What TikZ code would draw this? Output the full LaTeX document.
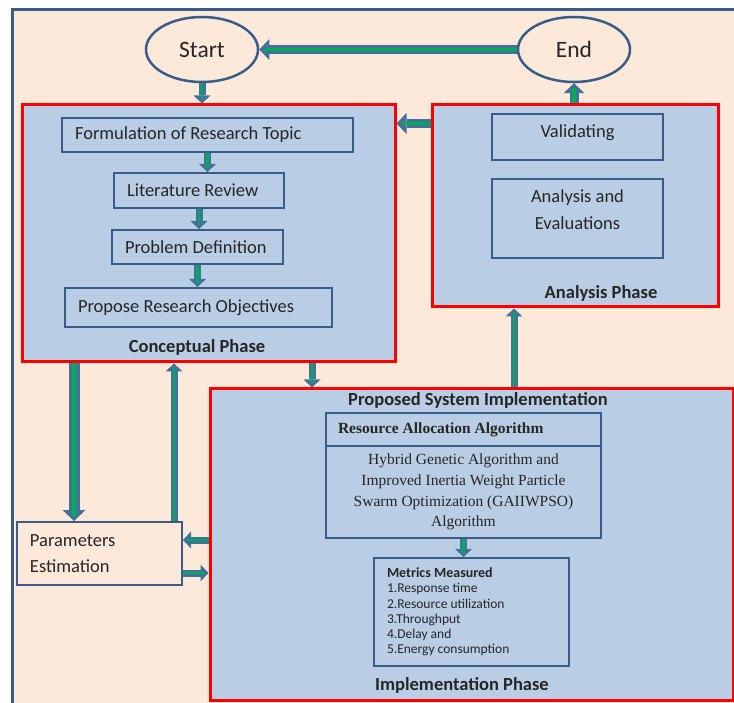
\documentclass[tikz,border=0pt]{standalone}
\usepackage{fontspec}
\setmainfont{Carlito}
\newfontfamily\timesfont{Liberation Serif}
\usetikzlibrary{positioning}
\usetikzlibrary{calc}
\usetikzlibrary{shapes.geometric}
\usetikzlibrary{arrows.meta}
\definecolor{page peach}{RGB}{252,233,218}
\definecolor{phase blue}{RGB}{185,205,229}
\definecolor{line blue}{RGB}{56,93,138}
\definecolor{arrow blue}{RGB}{65,113,156}
\definecolor{arrow green}{RGB}{0,176,80}
\colorlet{phase red}{red}
\colorlet{text colour}{black!85}
\tikzset{
    % One pixel of the original figure is one point here
    every node/.style={align=center, text=text colour},
    base font/.style={font=\fontsize{18.5}{26.5}\selectfont},
    title font/.style={font=\bfseries\fontsize{18.5}{22}\selectfont},
%
    % The page and its phases
    frame/.style={draw=line blue, line width=3pt, fill=page peach},
    phase/.style={
        draw=phase red, line width=3pt, fill=phase blue, inner sep=0},
    phase title/.style={title font, inner sep=0},
    terminal/.style={
        ellipse, draw=line blue, line width=2.5pt, fill=page peach,
        minimum width=112pt, minimum height=65pt, inner sep=0,
        font=\fontsize{23.5}{28}\selectfont},
%
    % Boxes inside the phases
    stepbox/.style={
        draw=line blue, line width=2pt, anchor=north west,
        align=flush left, inner xsep=13pt, inner ysep=0pt, base font},
    centre box/.style={
        draw=line blue, line width=2pt, anchor=north west,
        inner sep=0pt, base font},
%
    % Block arrows: blue shaft and head with a green core
    flow/.style args={#1/#2/#3}{
        draw=arrow green, line width=0.4*#1, shorten >=0.5*#3,
        preaction={
            draw=arrow blue, line width=#1, shorten >=0pt,
            -{Triangle[width=#2, length=#3, line width=0pt]}}},
    big flow/.style={flow=11pt/23pt/11pt},
    mid flow/.style={flow=9pt/21pt/10pt},
    small flow/.style={flow=7pt/17pt/8pt},
}

\begin{document}
\begin{tikzpicture}[x=1pt, y=-1pt]
    \useasboundingbox (0,0) rectangle (734,703);
    \clip (0,0) rectangle (734,703);
    \path[frame] (12,10) rectangle (760,730);

    % Start and end
    \node[terminal] (start) at (202,49.5) {Start};
    \node[terminal] (end) at (574,49.5) {End};

    % Phases
    \node[phase, minimum width=373pt, minimum height=257pt]
        (concept) at (208.5,233.5) {};
    \node[phase, minimum width=286pt, minimum height=202pt]
        (analysis) at (575,206) {};
    \node[phase, minimum width=523pt, minimum height=311pt]
        (impl) at (471.5,544.5) {};

    % Conceptual phase
    \node[stepbox, text width=265pt, minimum height=34pt]
        (topic) at (61,117) {Formulation of Research Topic};
    \node[stepbox, text width=144pt, minimum height=35pt]
        (literature) at (113,172) {Literature Review};
    \node[stepbox, text width=145pt, minimum height=34pt]
        (problem) at (111,229) {Problem Definition};
    \node[stepbox, text width=241pt, minimum height=39pt]
        (propose) at (64,287) {Propose Research Objectives};
    \node[phase title] (concept title) at (197,347) {Conceptual Phase};

    % Analysis phase
    \node[centre box, minimum width=171pt, minimum height=46pt,
        text depth=11pt]
        (validating) at (491,113) {Validating};
    \node[centre box, minimum width=171pt, minimum height=79pt,
        text depth=18pt]
        (evaluation) at (491,178) {Analysis and\\Evaluations};
    \node[phase title] (analysis title) at (601,293) {Analysis Phase};

    % Implementation phase
    \node[phase title] (impl head) at (478,400)
        {Proposed System Implementation};
    \node[centre box, align=flush left, inner xsep=12pt, text width=251pt,
        minimum height=33pt, font=\timesfont\bfseries\fontsize{15.5}{19}\selectfont]
        (resource) at (325,412) {Resource Allocation Algorithm};
    \node[centre box, minimum width=275pt, minimum height=92pt,
        font=\timesfont\fontsize{15.5}{20.8}\selectfont]
        (hybrid) at (325,445)
        {Hybrid Genetic Algorithm and\\Improved Inertia Weight Particle\\
         Swarm Optimization (GAIIWPSO)\\Algorithm};
    \node[centre box, align=flush left, inner xsep=13pt, text width=169pt,
        minimum height=108pt, font=\fontsize{13.5}{15.2}\selectfont]
        (metrics) at (373,557)
        {{\bfseries\fontsize{14}{15.2}\selectfont Metrics Measured}\\
         1.Response time\\2.Resource utilization\\3.Throughput\\
         4.Delay and\\5.Energy consumption};
    \node[phase title] (impl title) at (462,685) {Implementation Phase};

    % Parameters
    \node[stepbox, text width=139pt, minimum height=63pt, fill=page peach]
        (params) at (16,521) {Parameters\\Estimation};

    % Arrows
    \draw[mid flow] (end) -- (start);
    \draw[small flow] (start.south) -- (start.south |- concept.north);
    \draw[mid flow] (end.south |- analysis.north) -- (end.south);
    \draw[mid flow] ([yshift=-20pt]analysis.north west)
        -- ([yshift=-20pt]analysis.north west -| concept.east);
    \draw[small flow] (topic.south) -- (topic.south |- literature.north);
    \draw[small flow] (literature.south) -- (literature.south |- problem.north);
    \draw[small flow] (problem.south) -- (problem.south |- propose.north);
    \draw[small flow] ([xshift=103.5pt]concept.south)
        -- ([xshift=103.5pt]concept.south |- impl.north);
    \draw[small flow] ([xshift=-61pt]analysis.south |- impl.north)
        -- ([xshift=-61pt]analysis.south);
    \draw[big flow] ([xshift=-25.5pt]params.north |- concept.south)
        -- ([xshift=-25.5pt]params.north);
    \draw[small flow] ([xshift=74.5pt]params.north)
        -- ([xshift=74.5pt]params.north |- concept.south);
    \draw[small flow] ([yshift=13.5pt]params.east -| impl.west)
        -- ([yshift=13.5pt]params.east);
    \draw[small flow] ([yshift=-19.5pt]params.east)
        -- ([yshift=-19.5pt]params.east -| impl.west);
    \draw[small flow] (hybrid.south) -- (hybrid.south |- metrics.north);
\end{tikzpicture}
\end{document}
